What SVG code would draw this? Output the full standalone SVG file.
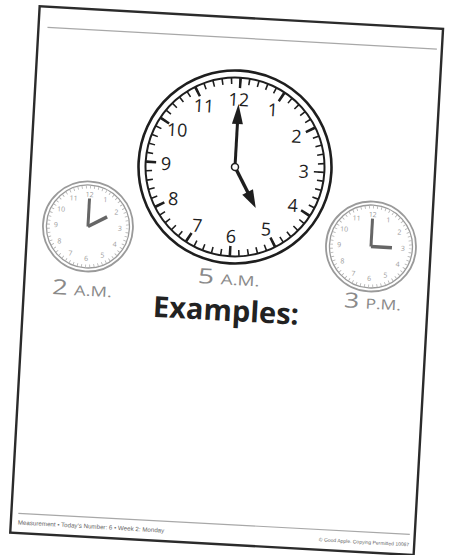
<svg xmlns="http://www.w3.org/2000/svg" width="451" height="555" viewBox="0 0 451 555">
<style>
.page{fill:#fff;stroke:#2b2b2b;stroke-width:2.4}
.rule{stroke:#a8a8a8;stroke-width:1.2;fill:none}
.ring{fill:none;stroke:#1e1e1e}
.num{font-family:"Open Sans","Liberation Sans",sans-serif;fill:#1e1e1e;text-anchor:middle;dominant-baseline:central}
.snum{font-family:"Open Sans","Liberation Sans",sans-serif;fill:#9a9a9a;text-anchor:middle;dominant-baseline:central;font-size:7px}
.sring{fill:#fff;stroke:#9a9a9a}
.shand{stroke:#666;stroke-linecap:butt}
.lbl{font-family:"Open Sans","Liberation Sans",sans-serif;fill:#8a8a8a;text-anchor:middle}
.foot{font-family:"Liberation Sans",sans-serif;fill:#666}
</style>
<rect width="451" height="555" fill="#fff"/>
<g transform="rotate(3.2 235 167)">
  <g id="page">
    <rect class="page" x="31" y="17.5" width="404" height="527"/>
    <line class="rule" x1="40" y1="38" x2="430" y2="38"/>
    <line class="rule" x1="38" y1="525" x2="430" y2="524"/>
    <text class="foot" x="38" y="536" font-size="6.2">Measurement • Today's Number: 6 • Week 2: Monday</text>
    <text class="foot" x="430" y="536" font-size="5" text-anchor="end">© Good Apple. Copying Permitted 10067</text>
  </g>
  <g id="clock-5am" transform="translate(235 167)">
    <circle class="ring" r="96.5" stroke-width="2.6" fill="#fff"/>
    <circle class="ring" r="89.5" stroke-width="2"/>
    <circle class="ring" r="86" stroke-width="6" stroke-dasharray="1.6 7.406" stroke-dashoffset="0.8"/>
    <circle class="ring" r="84" stroke-width="10" stroke-dasharray="2.6 41.38" stroke-dashoffset="1.3"/>
    <g class="num" font-size="18">
      <text x="34.5" y="-59.8">1</text>
      <text x="59.8" y="-34.5">2</text>
      <text x="69" y="0">3</text>
      <text x="59.8" y="34.5">4</text>
      <text x="34.5" y="59.8">5</text>
      <text x="0" y="69">6</text>
      <text x="-34.5" y="59.8">7</text>
      <text x="-59.8" y="34.5">8</text>
      <text x="-69" y="0">9</text>
      <text x="-59.8" y="-34.5">10</text>
      <text x="-34.5" y="-59.8">11</text>
      <text x="0" y="-68">12</text>
    </g>
    <g id="minute-hand" fill="#1e1e1e">
      <line x1="0" y1="0" x2="0" y2="-46" stroke="#1e1e1e" stroke-width="3"/>
      <polygon points="0,-63 -5.5,-43 5.5,-43"/>
    </g>
    <g id="hour-hand" fill="#1e1e1e" transform="rotate(150)">
      <line x1="0" y1="0" x2="0" y2="-32" stroke="#1e1e1e" stroke-width="3.4"/>
      <polygon points="0,-46 -6,-28 6,-28"/>
    </g>
    <circle r="3.5" fill="#fff" stroke="#1e1e1e" stroke-width="1.5"/>
  </g>
  <g id="clock-2am" transform="translate(91.5 234.6)">
    <circle class="sring" r="45" stroke-width="1.8"/>
    <circle class="sring" r="41.5" stroke-width="1.3"/>
    <circle fill="none" stroke="#b0b0b0" r="39.5" stroke-width="3" stroke-dasharray="0.8 3.336" stroke-dashoffset="0.4"/>
    <g class="snum">
      <text x="16" y="-27.7">1</text><text x="27.7" y="-16">2</text><text x="32" y="0">3</text>
      <text x="27.7" y="16">4</text><text x="16" y="27.7">5</text><text x="0" y="32">6</text>
      <text x="-16" y="27.7">7</text><text x="-27.7" y="16">8</text><text x="-32" y="0">9</text>
      <text x="-27.7" y="-16">10</text><text x="-16" y="-27.7">11</text><text x="0" y="-32">12</text>
    </g>
    <line class="shand" x1="0" y1="0" x2="0" y2="-28" stroke-width="3"/>
    <line class="shand" x1="0" y1="0" x2="18.6" y2="-10.7" stroke-width="3.5"/>
  </g>
  <g id="clock-3pm" transform="translate(375.2 238.8)">
    <circle class="sring" r="45" stroke-width="1.8"/>
    <circle class="sring" r="41.5" stroke-width="1.3"/>
    <circle fill="none" stroke="#b0b0b0" r="39.5" stroke-width="3" stroke-dasharray="0.8 3.336" stroke-dashoffset="0.4"/>
    <g class="snum">
      <text x="16" y="-27.7">1</text><text x="27.7" y="-16">2</text><text x="32" y="0">3</text>
      <text x="27.7" y="16">4</text><text x="16" y="27.7">5</text><text x="0" y="32">6</text>
      <text x="-16" y="27.7">7</text><text x="-27.7" y="16">8</text><text x="-32" y="0">9</text>
      <text x="-27.7" y="-16">10</text><text x="-16" y="-27.7">11</text><text x="0" y="-32">12</text>
    </g>
    <line class="shand" x1="0" y1="0" x2="0" y2="-28" stroke-width="3"/>
    <line class="shand" x1="0" y1="0" x2="21" y2="0" stroke-width="3.5"/>
  </g>
  <g id="label-2am"><text class="lbl" x="89" y="304" textLength="60" lengthAdjust="spacingAndGlyphs"><tspan font-size="21">2</tspan><tspan font-size="14" dx="5">A.M.</tspan></text></g>
  <g id="label-5am"><text class="lbl" x="235" y="285" textLength="62" lengthAdjust="spacingAndGlyphs"><tspan font-size="21">5</tspan><tspan font-size="14" dx="5">A.M.</tspan></text></g>
  <g id="label-3pm"><text class="lbl" x="380" y="301" textLength="57" lengthAdjust="spacingAndGlyphs"><tspan font-size="21">3</tspan><tspan font-size="14" dx="5">P.M.</tspan></text></g>
  <g id="title"><text x="234" y="321" font-family="'Open Sans','Liberation Sans',sans-serif" font-weight="bold" font-size="29" fill="#222" text-anchor="middle">Examples:</text></g>
</g>
</svg>
